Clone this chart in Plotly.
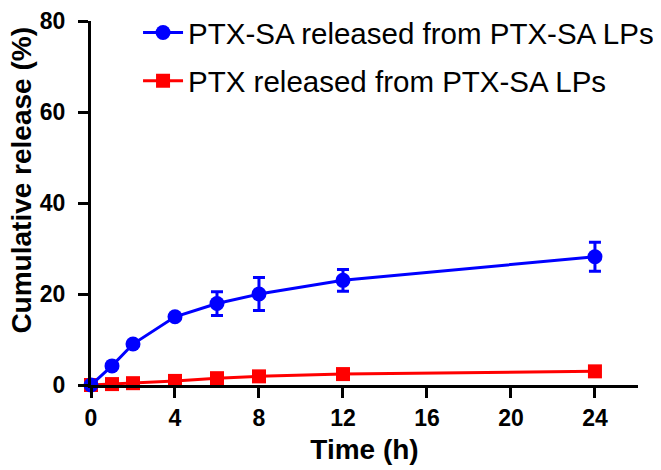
import plotly.graph_objects as go

time_h = [0, 1, 2, 4, 6, 8, 12, 24]
ptx_sa = [0, 4.2, 9.0, 15.0, 17.9, 20.0, 23.0, 28.2]
ptx_sa_err = [0, 0, 0, 0, 2.6, 3.6, 2.4, 3.2]
ptx = [0, 0.2, 0.4, 0.9, 1.5, 1.9, 2.4, 3.0]
ptx_err = [0, 0, 0, 0, 0, 0, 0, 0]
x_ticks = [0, 4, 8, 12, 16, 20, 24]
y_ticks = [0, 20, 40, 60, 80]

FONT = "Liberation Sans, Arial, sans-serif"

fig = go.Figure()
fig.add_trace(go.Scatter(
    x=time_h, y=ptx, name="PTX released from PTX-SA LPs",
    mode="lines+markers", legendgroup="b", legendrank=2,
    line=dict(color="#ff0000", width=3),
    marker=dict(symbol="square", size=14, color="#ff0000"),
    error_y=dict(type="data", array=ptx_err, visible=True, color="#ff0000", thickness=3, width=6),
    cliponaxis=False,
))
fig.add_trace(go.Scatter(
    x=time_h, y=ptx_sa, name="PTX-SA released from PTX-SA LPs",
    mode="lines+markers", legendgroup="a", legendrank=1,
    line=dict(color="#0000ff", width=3),
    marker=dict(symbol="circle", size=15, color="#0000ff"),
    error_y=dict(type="data", array=ptx_sa_err, visible=True, color="#0000ff", thickness=3, width=6),
    cliponaxis=False,
))

fig.update_layout(
    width=661, height=470,
    margin=dict(l=83, r=31, t=13, b=93, autoexpand=False),
    paper_bgcolor="white", plot_bgcolor="white",
    font=dict(family=FONT, color="black"),
    showlegend=True,
    legend=dict(
        x=0.086, y=1.039, xanchor="left", yanchor="top",
        font=dict(family=FONT, size=29.5, color="black"),
        bgcolor="rgba(0,0,0,0)", traceorder="grouped", tracegroupgap=7,
        itemwidth=40,
    ),
    xaxis=dict(
        range=[0, 26.05], tickvals=x_ticks, ticktext=[str(v) for v in x_ticks],
        showline=True, linecolor="black", linewidth=3,
        ticks="outside", ticklen=10, tickwidth=3, tickcolor="black",
        showgrid=False, zeroline=False,
        tickfont=dict(family=FONT, size=23, weight="bold"),
        title=dict(text="Time (h)", font=dict(family=FONT, size=28, weight="bold"), standoff=10),
    ),
    yaxis=dict(
        range=[0, 80], tickvals=y_ticks, ticktext=[str(v) for v in y_ticks],
        showline=True, linecolor="black", linewidth=3,
        ticks="outside", ticklen=10, tickwidth=3, tickcolor="black",
        ticklabelstandoff=8,
        showgrid=False, zeroline=False,
        tickfont=dict(family=FONT, size=23, weight="bold"),
    ),
    annotations=[dict(
        text="Cumulative release (%)", textangle=-90,
        xref="paper", yref="paper", x=-0.127, y=0.563,
        xanchor="center", yanchor="middle", showarrow=False,
        font=dict(family=FONT, size=28, weight="bold", color="black"),
    )],
)

fig.write_html("out.html")
